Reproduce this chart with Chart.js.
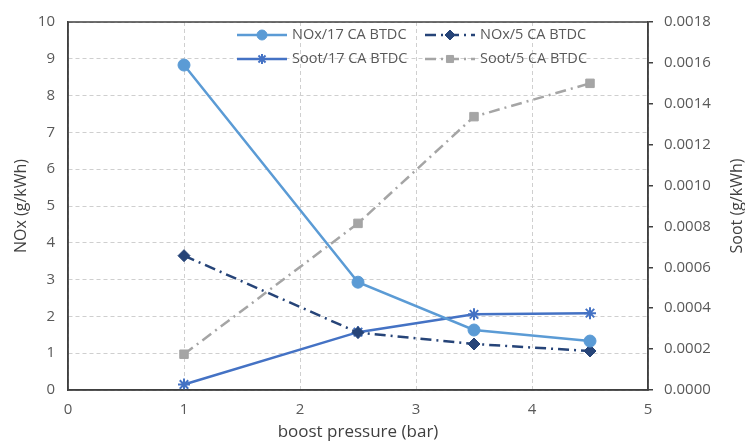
<!DOCTYPE html>
<html>
<head>
<meta charset="utf-8">
<script src="https://cdn.jsdelivr.net/npm/chart.js@4.4.0/dist/chart.umd.min.js"></script>
<style>
  html, body { margin: 0; padding: 0; background: #ffffff; }
  #wrap { width: 745px; height: 442px; position: relative; }
</style>
</head>
<body>
<div id="wrap"><canvas id="boostChart"></canvas></div>
<script>
// Emissions vs boost pressure, two injection timings
const boostPressure = [1, 2.5, 3.5, 4.5];
const noxTiming17 = [8.83, 2.93, 1.63, 1.33];
const noxTiming5 = [3.65, 1.56, 1.25, 1.06];
const sootTiming17 = [0.000027, 0.000283, 0.00037, 0.000376];
const sootTiming5 = [0.000175, 0.000815, 0.001337, 0.0015];

const seriesLabels = ['NOx/17 CA BTDC', 'NOx/5 CA BTDC', 'Soot/17 CA BTDC', 'Soot/5 CA BTDC'];
const noxTicks = [0, 1, 2, 3, 4, 5, 6, 7, 8, 9, 10];
const sootTicks = [0, 0.0002, 0.0004, 0.0006, 0.0008, 0.0010, 0.0012, 0.0014, 0.0016, 0.0018];

const FONT = "'Open Sans', 'Liberation Sans', sans-serif";
const TEXT = '#595959';
const TITLE = '#404040';
const dashDot = [11, 5, 2, 5];

const toPoints = (ys) => ys.map((y, i) => ({ x: boostPressure[i], y: y }));

// legend drawn inside the plot, two columns
const legendSlots = [
  { x: 237, y: 35 },
  { x: 425, y: 35 },
  { x: 237, y: 59 },
  { x: 425, y: 59 }
];

const boxLegend = {
  id: 'boxLegend',
  afterDraw(chart) {
    const ctx = chart.ctx;
    const a = chart.chartArea;
    ctx.save();
    ctx.strokeStyle = '#404040';
    ctx.lineWidth = 1.5;
    ctx.strokeRect(a.left, a.top, a.right - a.left, a.bottom - a.top);

    // right axis title, reading bottom to top
    ctx.save();
    ctx.translate(737, (a.top + a.bottom) / 2);
    ctx.rotate(-Math.PI / 2);
    ctx.fillStyle = TITLE;
    ctx.font = '16px ' + FONT;
    ctx.textAlign = 'center';
    ctx.textBaseline = 'middle';
    ctx.fillText('Soot (g/kWh)', 0, 0);
    ctx.restore();

    chart.data.datasets.forEach((ds, i) => {
      const s = legendSlots[i];
      ctx.strokeStyle = ds.borderColor;
      ctx.lineWidth = ds.borderWidth;
      ctx.setLineDash(ds.borderDash || []);
      ctx.beginPath();
      ctx.moveTo(s.x, s.y);
      ctx.lineTo(s.x + 50, s.y);
      ctx.stroke();
      ctx.setLineDash([]);
      ctx.fillStyle = ds.pointBackgroundColor;
      ctx.strokeStyle = ds.pointBorderColor;
      ctx.lineWidth = ds.pointBorderWidth;
      Chart.helpers.drawPoint(ctx, {
        pointStyle: ds.pointStyle,
        radius: ds.pointRadius - 1,
        rotation: 0,
        borderWidth: ds.pointBorderWidth
      }, s.x + 25, s.y);
      ctx.fillStyle = TEXT;
      ctx.font = '14.5px ' + FONT;
      ctx.textBaseline = 'middle';
      ctx.textAlign = 'left';
      ctx.fillText(ds.label, s.x + 55, s.y);
    });
    ctx.restore();
  }
};

new Chart(document.getElementById('boostChart'), {
  type: 'line',
  data: {
    datasets: [
      {
        label: seriesLabels[0],
        data: toPoints(noxTiming17),
        yAxisID: 'y',
        borderColor: '#5B9BD5',
        borderWidth: 2.5,
        pointStyle: 'circle',
        pointRadius: 6,
        pointBackgroundColor: '#5B9BD5',
        pointBorderColor: '#5B9BD5',
        pointBorderWidth: 1
      },
      {
        label: seriesLabels[1],
        data: toPoints(noxTiming5),
        yAxisID: 'y',
        borderColor: '#264478',
        borderWidth: 2.5,
        borderDash: dashDot,
        pointStyle: 'rectRot',
        pointRadius: 6,
        pointBackgroundColor: '#264478',
        pointBorderColor: '#264478',
        pointBorderWidth: 1
      },
      {
        label: seriesLabels[2],
        data: toPoints(sootTiming17),
        yAxisID: 'y2',
        borderColor: '#4472C4',
        borderWidth: 2.5,
        pointStyle: 'star',
        pointRadius: 6,
        pointBackgroundColor: '#4472C4',
        pointBorderColor: '#4472C4',
        pointBorderWidth: 2
      },
      {
        label: seriesLabels[3],
        data: toPoints(sootTiming5),
        yAxisID: 'y2',
        borderColor: '#A5A5A5',
        borderWidth: 2.5,
        borderDash: dashDot,
        pointStyle: 'rect',
        pointRadius: 6,
        pointBackgroundColor: '#A5A5A5',
        pointBorderColor: '#A5A5A5',
        pointBorderWidth: 1
      }
    ]
  },
  options: {
    responsive: true,
    maintainAspectRatio: false,
    animation: false,
    layout: { padding: { top: 21, left: 0, right: 0, bottom: 0 } },
    plugins: {
      legend: { display: false },
      tooltip: { enabled: false }
    },
    scales: {
      x: {
        type: 'linear',
        min: 0,
        max: 5,
        afterFit: (scale) => { scale.height = 52; },
        ticks: { stepSize: 1, color: TEXT, font: { family: FONT, size: 15 }, padding: 11 },
        grid: { color: '#cfcfcf', drawTicks: false },
        border: { color: '#404040', width: 1.5, dash: [4, 3] },
        title: {
          display: true,
          text: 'boost pressure (bar)',
          color: TITLE,
          font: { family: FONT, size: 17 },
          padding: { top: 0, bottom: 0 }
        }
      },
      y: {
        position: 'left',
        min: 0,
        max: 10,
        afterFit: (scale) => { scale.width = 68; },
        afterBuildTicks: (scale) => { scale.ticks = noxTicks.map(v => ({ value: v })); },
        ticks: { color: TEXT, font: { family: FONT, size: 15 }, padding: 13 },
        grid: { color: '#cfcfcf', drawTicks: false },
        border: { color: '#404040', width: 1.5, dash: [4, 3] },
        title: {
          display: true,
          text: 'NOx (g/kWh)',
          color: TITLE,
          font: { family: FONT, size: 16 },
          padding: { top: 12, bottom: 4 }
        }
      },
      y2: {
        position: 'right',
        min: 0,
        max: 0.0018,
        afterFit: (scale) => { scale.width = 97; },
        afterBuildTicks: (scale) => { scale.ticks = sootTicks.map(v => ({ value: v })); },
        ticks: {
          color: TEXT,
          font: { family: FONT, size: 15 },
          padding: 11,
          callback: (v) => Number(v).toFixed(4)
        },
        grid: { drawOnChartArea: false, drawTicks: true, tickLength: 5, color: '#404040', lineWidth: 1.5 },
        border: { color: '#404040', width: 1.5 },
        title: { display: false }
      }
    }
  },
  plugins: [boxLegend]
});
</script>
</body>
</html>
